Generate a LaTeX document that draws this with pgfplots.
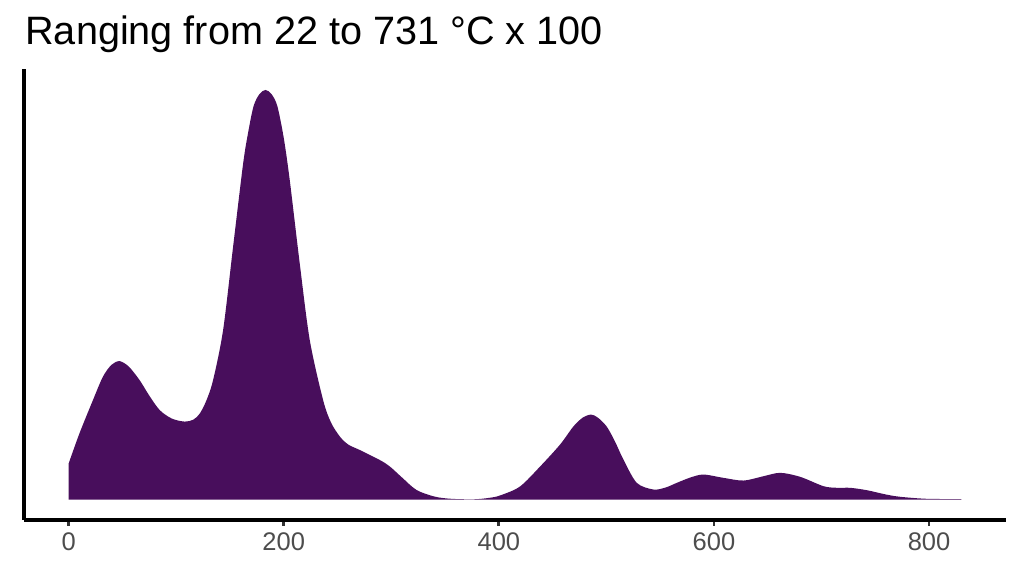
\documentclass[border=0pt]{standalone}
\usepackage{pgfplots}
\pgfplotsset{compat=1.18}
\usepackage{fontspec}
\setmainfont{Liberation Sans}
\definecolor{dens}{RGB}{72,14,92}
\definecolor{ticktxt}{HTML}{4D4D4D}
\definecolor{tickcol}{HTML}{333333}
\begin{document}
\begin{tikzpicture}
\begin{axis}[
    name=ax,
    scale only axis,
    width=491pt, height=225.25pt,
    xmin=-41.5, xmax=871.5,
    ymin=-20.5, ymax=430.5,
    axis x line=bottom, axis y line=left,
    axis line style={-, line width=1.6pt, black},
    xtick={0,200,400,600,800},
    ytick=\empty,
    tick align=outside,
    major tick length=3pt,
    every tick/.style={tickcol, line width=1.4pt},
    xticklabel style={font=\fontsize{12.75}{15}\selectfont, text=ticktxt},
    /pgf/number format/assume math mode=true,
    every axis title shift=0pt,
    title={Ranging from 22 to 731 °C x 100},
    title style={at={(0,1)}, anchor=base west, inner sep=0pt,
        yshift=12.25pt, xshift=0.5pt, font=\fontsize{19.8}{23}\selectfont},
]
\addplot[fill=dens, draw=none, smooth, tension=0.5] table {
x h
0 36
10 66
22.6 99.5
31.9 123
40 135
47.5 138.5
56 133
66 119.5
75 104
84.7 89.5
96 81
108 78
116 80
121.9 86
128 99
134.3 119.5
143.6 169.5
152.9 253
162.2 336
167 368
172 394
177.5 406
183 410
188.5 406
194 394
200 362
205.6 319.5
214.9 236
224.2 159.5
236.6 99.5
244 77
252.2 63
260 55
270.8 49.5
289.4 39.5
298.7 33
310 22
323.5 9.5
340 3
354.5 0.8
376 0.2
390 1.5
401 4
419.6 13
438.3 33
456.9 55
469.2 73
478 82
485.7 85
492 82
500.3 73
508 58
515.8 40
528.2 16.7
543.7 10
555 12
565.5 16.7
578 22
590.2 25
608.8 21.7
627.4 19
646 23.3
661.6 26.7
680.2 22.7
701.9 13.3
715 11.7
726.7 11.7
742.2 9.3
760 5
773.3 2.7
798 0.7
830 0.5
} \closedcycle;
\end{axis}
\pgfresetboundingbox
\path[use as bounding box] (ax.south west) ++(-12pt,-28pt) rectangle ++(512pt,288pt);
\end{tikzpicture}
\end{document}
